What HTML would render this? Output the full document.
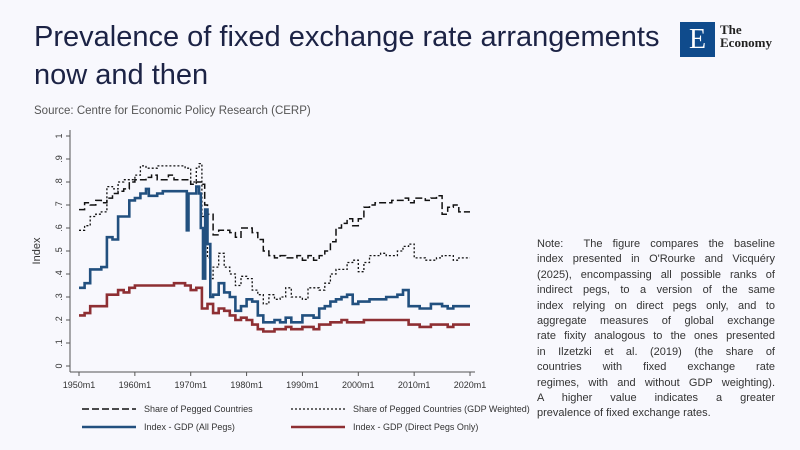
<!DOCTYPE html>
<html><head><meta charset="utf-8"><style>
body{margin:0;width:800px;height:450px;background:#f8f8fd;font-family:"Liberation Sans",sans-serif;overflow:hidden;position:relative}
.t{position:absolute;left:34px;top:18px;font-size:29px;line-height:38px;color:#1c2345}
.s{position:absolute;left:34px;top:105px;font-size:11.5px;color:#555}
.n{position:absolute;left:537px;top:237px;width:238px;font-size:11px;line-height:15.4px;color:#333}
.n div{text-align:justify;text-align-last:justify;white-space:nowrap;overflow:visible}
.n div.l{text-align-last:left}
.logo{position:absolute;left:680px;top:22px;width:35px;height:35px;background:#0f4b8c;color:#fff;font-family:"Liberation Serif",serif;font-size:28px;text-align:center;line-height:35px}
.lt{position:absolute;left:720px;top:23px;font-family:"Liberation Serif",serif;font-size:13px;line-height:13px;color:#222;font-weight:bold}
</style></head><body>
<div class="t">Prevalence of fixed exchange rate arrangements<br>now and then</div>
<div class="s">Source: Centre for Economic Policy Research (CERP)</div>
<div class="logo">E</div><div class="lt">The<br>Economy</div>
<svg id="c" width="800" height="450" style="position:absolute;left:0;top:0" font-family="Liberation Sans" font-size="9" fill="#333"></svg>
<div class="n">
<div>Note: &nbsp;The figure compares the baseline</div>
<div>index presented in O'Rourke and Vicquéry</div>
<div>(2025), encompassing all possible ranks of</div>
<div>indirect pegs, to a version of the same</div>
<div>index relying on direct pegs only, and to</div>
<div>aggregate measures of global exchange</div>
<div>rate fixity analogous to the ones presented</div>
<div>in Ilzetzki et al. (2019) (the share of</div>
<div>countries with fixed exchange rate</div>
<div>regimes, with and without GDP weighting).</div>
<div>A higher value indicates a greater</div>
<div class="l">prevalence of fixed exchange rates.</div>
</div>
<script>
var X=y=>79+(y-1950)*5.586,Y=v=>366-230*v;
var s='<line x1="70" y1="130" x2="70" y2="372" stroke="#555"/><line x1="70" y1="372" x2="475" y2="372" stroke="#555"/>';
for(var i=0;i<=10;i++){var yy=Y(i/10);s+='<line x1="66" y1="'+yy+'" x2="70" y2="'+yy+'" stroke="#555"/><text transform="translate(62,'+yy+') rotate(-90)" text-anchor="middle">'+(i==0?'0':i==10?'1':'.'+i)+'</text>';}
for(var d=1950;d<=2020;d+=10){var xx=X(d);s+='<line x1="'+xx+'" y1="372" x2="'+xx+'" y2="376" stroke="#555"/><text x="'+xx+'" y="388" text-anchor="middle">'+d+'m1</text>';}
s+='<text transform="translate(40,251) rotate(-90)" text-anchor="middle" font-size="11">Index</text>';
function P(a){var p=[],py=null;for(var i=0;i<a.length;i+=2){var x=X(a[i]),y=Y(a[i+1]);if(py!==null)p.push(x.toFixed(1)+','+py);p.push(x.toFixed(1)+','+y.toFixed(1));py=y.toFixed(1);}return p.join(' ');}
var A=[1950,.68,1951,.71,1952,.70,1953,.72,1954,.71,1955,.73,1956,.75,1957,.76,1958,.77,1959,.80,1960,.81,1962,.82,1963,.83,1964,.81,1966,.83,1967,.81,1969,.81,1970,.79,1971,.80,1972,.79,1972.5,.70,1973,.66,1974,.57,1975,.59,1977,.58,1978,.56,1979,.60,1980,.60,1981,.58,1982,.55,1983,.50,1984,.48,1985,.47,1986,.48,1987,.47,1989,.48,1990,.46,1991,.48,1992,.46,1993,.48,1994,.50,1995,.54,1996,.60,1997,.62,1998,.64,1999,.61,2000,.64,2001,.69,2002,.70,2003,.71,2005,.71,2006,.72,2008,.73,2009,.71,2010,.73,2012,.72,2013,.73,2014,.74,2015,.66,2016,.69,2017,.70,2018,.67,2020,.67];
var B=[1950,.59,1951,.61,1952,.65,1953,.66,1954,.67,1955,.78,1956,.77,1957,.80,1958,.81,1960,.83,1961,.87,1962,.86,1964,.87,1967,.87,1969,.86,1970,.80,1971,.86,1971.5,.88,1972,.65,1972.5,.56,1973,.47,1973.5,.38,1974,.43,1975,.49,1976,.43,1977,.40,1978,.35,1979,.39,1980,.38,1981,.33,1982,.31,1983,.27,1984,.31,1985,.29,1986,.30,1987,.34,1988,.30,1990,.29,1991,.34,1993,.33,1994,.36,1995,.40,1996,.42,1998,.45,1999,.46,2000,.41,2001,.45,2002,.48,2004,.49,2005,.48,2007,.50,2008,.52,2009,.53,2010,.47,2012,.46,2014,.47,2015,.48,2017,.46,2018,.47,2020,.47];
var C=[1950,.34,1951,.36,1952,.42,1954,.43,1955,.56,1956,.55,1957,.65,1958,.65,1959,.72,1960,.73,1961,.75,1962,.77,1962.5,.74,1964,.75,1965,.76,1969,.76,1969.3,.59,1969.6,.75,1971,.78,1971.5,.75,1971.8,.60,1972.2,.38,1972.6,.68,1973,.53,1973.5,.30,1974,.31,1975,.36,1976,.32,1977,.30,1978,.24,1979,.26,1980,.29,1981,.28,1982,.22,1983,.19,1985,.20,1986,.19,1987,.21,1988,.19,1990,.22,1992,.21,1993,.25,1994,.26,1995,.28,1996,.29,1997,.30,1998,.31,1999,.27,2000,.28,2002,.29,2005,.30,2007,.31,2008,.33,2009,.26,2011,.25,2013,.27,2015,.26,2016,.25,2017,.26,2020,.26];
var D=[1950,.22,1951,.23,1952,.26,1954,.26,1955,.31,1957,.33,1958,.32,1959,.34,1960,.35,1967,.36,1969,.35,1970,.33,1971,.34,1972,.25,1973,.27,1974,.23,1975,.25,1976,.24,1977,.22,1978,.20,1979,.21,1980,.20,1981,.18,1982,.16,1983,.15,1985,.16,1987,.17,1988,.16,1990,.17,1992,.16,1993,.18,1995,.19,1997,.20,1998,.19,2000,.19,2001,.20,2008,.20,2009,.18,2011,.17,2013,.18,2015,.18,2016,.17,2017,.18,2020,.18];
s+='<polyline fill="none" stroke="#111" stroke-width="1.5" stroke-dasharray="7,3" points="'+P(A)+'"/>';
s+='<polyline fill="none" stroke="#111" stroke-width="1.3" stroke-dasharray="2,2" points="'+P(B)+'"/>';
s+='<polyline fill="none" stroke="#22507f" stroke-width="2.6" points="'+P(C)+'"/>';
s+='<polyline fill="none" stroke="#8e2f33" stroke-width="2.6" points="'+P(D)+'"/>';
s+='<line x1="82" y1="409" x2="136" y2="409" stroke="#111" stroke-width="1.5" stroke-dasharray="7,3"/><text x="144" y="412">Share of Pegged Countries</text>';
s+='<line x1="291" y1="409" x2="345" y2="409" stroke="#111" stroke-width="1.3" stroke-dasharray="2,2"/><text x="353" y="412">Share of Pegged Countries (GDP Weighted)</text>';
s+='<line x1="82" y1="427" x2="136" y2="427" stroke="#22507f" stroke-width="2.6"/><text x="144" y="430">Index - GDP (All Pegs)</text>';
s+='<line x1="291" y1="427" x2="345" y2="427" stroke="#8e2f33" stroke-width="2.6"/><text x="353" y="430">Index - GDP (Direct Pegs Only)</text>';
document.getElementById('c').innerHTML=s;
</script>
</body></html>
